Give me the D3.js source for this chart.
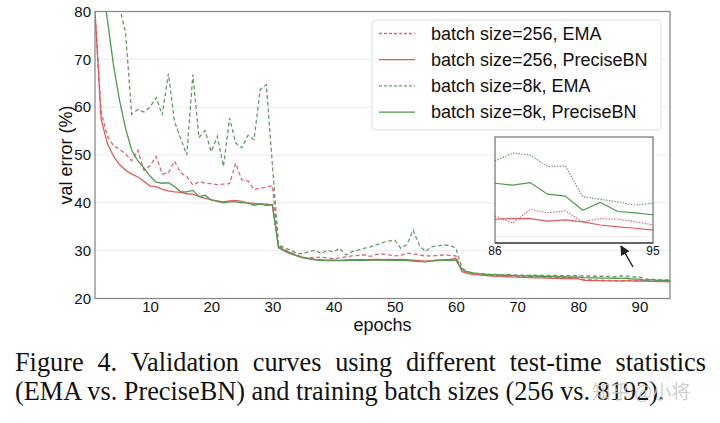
<!DOCTYPE html>
<html><head><meta charset="utf-8">
<script src="https://cdn.jsdelivr.net/npm/d3@7"></script>
<style>body{margin:0;background:#fff}svg{display:block}</style>
</head><body>
<svg id="chart" width="720" height="423"></svg>
<script>
// ---------- data ----------
const epochs = d3.range(1, 96);
const red256EMA = [80,59,54,52,51.2,50.2,48.8,51,46.8,47.8,49.7,46.0,46.3,48.7,46.3,45.5,43.7,44.4,44.1,44.0,43.8,43.9,44.0,48.3,44.8,44.6,42.8,43.0,43.3,43.6,
 31.0,30.2,29.6,29.0,28.6,28.5,28.6,28.6,28.5,28.3,28.5,28.7,28.9,29.0,29.1,28.8,29.2,29.3,29.1,28.9,29.0,29.5,29.3,29.1,28.9,28.9,29.0,29.1,29.0,28.9,
 25.9,25.4,25.2,25.05,25.0,24.9,24.85,24.8,24.7,24.7,24.6,24.55,24.55,24.5,24.45,24.45,24.4,24.4,24.35,24.3,23.95,23.9,23.85,23.8,23.8,23.72,23.61,23.82,23.77,23.80,23.63,23.68,23.67,23.63,23.58];
const red256PBN = [80,57.5,52.5,49.8,48.0,46.8,46.0,45.4,44.5,43.5,43.4,42.8,42.5,42.3,42.2,41.9,41.8,41.3,41.0,40.6,40.4,40.2,40.4,40.5,40.3,40.0,39.9,39.7,39.7,39.6,
 30.9,30.1,29.5,29.0,28.6,28.4,28.2,28.05,28.0,28.0,27.95,28.0,28.05,28.1,28.1,28.1,28.15,28.1,28.15,28.1,28.15,28.1,28.0,27.9,27.8,27.9,28.05,28.1,28.2,28.4,
 25.6,25.2,25.0,24.9,24.8,24.7,24.65,24.6,24.5,24.45,24.4,24.35,24.3,24.3,24.25,24.2,24.2,24.15,24.15,24.1,23.8,23.75,23.75,23.7,23.7,23.67,23.68,23.68,23.64,23.66,23.63,23.58,23.55,23.53,23.50];
const green8kEMA = [98,94,90,86,81,75.5,58.5,59.5,59.0,60.0,62.0,58.4,67.0,57.0,53.5,50.0,66.8,53.6,55.1,50.7,53.9,47.6,57.7,52.5,51.5,54.1,53.2,63.7,64.7,48.0,
 31.2,30.6,30.1,29.4,29.4,29.8,30.1,29.4,30.1,29.7,30.5,29.1,29.8,30.1,30.5,30.8,31.2,31.7,32.0,32.2,30.5,31.3,34.3,31.2,29.8,30.8,31.0,31.2,31.1,30.5,
 26.3,25.6,25.3,25.2,25.1,25.05,25.0,24.95,25.0,24.9,24.9,24.85,24.9,24.85,24.8,24.85,24.8,24.75,24.8,24.75,24.7,24.7,24.65,24.65,24.6,24.58,24.70,24.67,24.49,24.50,24.02,23.98,23.94,23.89,23.92];
const green8kPBN = [100,88,78.5,69,61.5,55.5,51,48.8,47.3,45.6,44.3,44.1,44.2,43.4,42.3,42.3,42.6,41.3,41.6,40.6,40.3,40.0,40.2,40.2,40.0,40.0,39.5,39.8,39.5,39.6,
 30.6,29.9,29.3,28.9,28.5,28.3,28.1,28.0,27.9,27.95,27.9,28.0,28.0,28.05,28.0,28.1,28.05,28.1,28.0,28.05,28.0,27.9,27.8,27.7,27.65,27.8,27.9,28.0,28.0,28.0,
 26.0,25.5,25.3,25.15,25.05,25.0,24.95,24.9,24.85,24.8,24.75,24.7,24.7,24.65,24.6,24.6,24.55,24.5,24.5,24.45,24.35,24.3,24.3,24.25,24.25,24.23,24.20,24.24,24.06,24.03,23.81,23.93,23.79,23.77,23.74];
const seriesNames = ["batch size=256, EMA","batch size=256, PreciseBN","batch size=8k, EMA","batch size=8k, PreciseBN"];
const xTicks = [10,20,30,40,50,60,70,80,90];
const yTicks = [20,30,40,50,60,70,80];
const insetRange = [86,95];
const insetTicks = ["86","95"];
const insetGrid = [23.4];
const captionLines = ["Figure 4. Validation curves using different test-time statistics",
                      "(EMA vs. PreciseBN) and training batch sizes (256 vs. 8192)."];
const watermark = "知乎 @小将";

// ---------- styles ----------
const RED = "#e05a5c", RED_D = "#d8667a", GREEN = "#4f9a4f", GREEN_D = "#6a9a6a";
const styles = [
  {color: RED_D, dash: "4,2.6"},
  {color: RED, dash: null},
  {color: GREEN_D, dash: "4,2.6"},
  {color: GREEN, dash: null}
];
const allSeries = [red256EMA, red256PBN, green8kEMA, green8kPBN];

const svg = d3.select("#chart");
const L = 95, R = 670, T = 11.5, B = 298.5;
const x = d3.scaleLinear().domain([1, 95]).range([L, R]);
const y = d3.scaleLinear().domain([20, 80]).range([B, T]);
const sans = "'Liberation Sans', Arial, Helvetica, sans-serif";

// grid
svg.append("g").selectAll("line").data(yTicks.filter(d => d > 20 && d < 80)).join("line")
  .attr("x1", L).attr("x2", R).attr("y1", d => y(d)).attr("y2", d => y(d))
  .attr("stroke", "#ebebeb").attr("stroke-width", 1);

// clip
svg.append("clipPath").attr("id", "clipMain").append("rect")
  .attr("x", L).attr("y", T).attr("width", R - L).attr("height", B - T);

const line = d3.line().x((d, i) => x(epochs[i])).y(d => y(d));
const gLines = svg.append("g").attr("clip-path", "url(#clipMain)");
allSeries.forEach((s, k) => {
  gLines.append("path").datum(s).attr("d", line).attr("fill", "none")
    .attr("stroke", styles[k].color).attr("stroke-width", 1.3)
    .attr("stroke-dasharray", styles[k].dash);
});

// frame
svg.append("rect").attr("x", L).attr("y", T).attr("width", R - L).attr("height", B - T)
  .attr("fill", "none").attr("stroke", "#8a8a8a").attr("stroke-width", 1.3);

// axes
const xAxis = svg.append("g").attr("transform", `translate(0,${B})`)
  .call(d3.axisBottom(x).tickValues(xTicks).tickSize(0).tickPadding(3));
xAxis.select(".domain").remove();
xAxis.selectAll("text").attr("font-family", sans).attr("font-size", 15).attr("fill", "#111");
const yAxis = svg.append("g").attr("transform", `translate(${L},0)`)
  .call(d3.axisLeft(y).tickValues(yTicks).tickSize(0).tickPadding(4));
yAxis.select(".domain").remove();
yAxis.selectAll("text").attr("font-family", sans).attr("font-size", 15).attr("fill", "#111");

svg.append("text").attr("x", (L + R) / 2).attr("y", 331).attr("text-anchor", "middle")
  .attr("font-family", sans).attr("font-size", 18).attr("fill", "#111").text("epochs");
svg.append("text").attr("transform", `translate(72,${(T + B) / 2}) rotate(-90)`)
  .attr("text-anchor", "middle").attr("font-family", sans).attr("font-size", 18)
  .attr("fill", "#111").text("val error (%)");

// legend
const lg = svg.append("g");
lg.append("rect").attr("x", 372).attr("y", 20).attr("width", 289).attr("height", 110)
  .attr("rx", 4).attr("fill", "#fff").attr("fill-opacity", 0.9)
  .attr("stroke", "#e0e0e0").attr("stroke-width", 1);
seriesNames.forEach((n, k) => {
  const cy = 33.5 + k * 26.2;
  lg.append("line").attr("x1", 379).attr("x2", 415).attr("y1", cy).attr("y2", cy)
    .attr("stroke", styles[k].color).attr("stroke-width", 1.3)
    .attr("stroke-dasharray", styles[k].dash ? "3,2" : null);
  lg.append("text").attr("x", 431).attr("y", cy + 6.3).attr("font-family", sans)
    .attr("font-size", 18).attr("fill", "#111").text(n);
});

// inset
const IL = 495, IR = 653, IT = 137, IB = 243;
const xi = d3.scaleLinear().domain(insetRange).range([IL, IR]);
const yi = d3.scaleLinear().domain([23.3, 24.95]).range([IB, IT]);
const ig = svg.append("g");
ig.append("rect").attr("x", IL).attr("y", IT).attr("width", IR - IL).attr("height", IB - IT).attr("fill", "#fff");
ig.selectAll("line.g").data(insetGrid).join("line").attr("class", "g")
  .attr("x1", IL).attr("x2", IR).attr("y1", d => yi(d)).attr("y2", d => yi(d))
  .attr("stroke", "#eeeeee");
svg.append("clipPath").attr("id", "clipInset").append("rect")
  .attr("x", IL).attr("y", IT).attr("width", IR - IL).attr("height", IB - IT);
const idx = epochs.map((e, i) => i).filter(i => epochs[i] >= insetRange[0] && epochs[i] <= insetRange[1]);
const insetStyles = [
  {color: RED_D, dash: "1.4,1.4"},
  {color: RED, dash: null},
  {color: GREEN_D, dash: "1.4,1.4"},
  {color: GREEN, dash: null}
];
const gi = ig.append("g").attr("clip-path", "url(#clipInset)");
allSeries.forEach((s, k) => {
  const pts = idx.map(i => [xi(epochs[i]), yi(s[i])]);
  gi.append("path").attr("d", d3.line()(pts)).attr("fill", "none")
    .attr("stroke", insetStyles[k].color).attr("stroke-width", 1.2)
    .attr("stroke-dasharray", insetStyles[k].dash);
});
ig.append("rect").attr("x", IL).attr("y", IT).attr("width", IR - IL).attr("height", IB - IT)
  .attr("fill", "none").attr("stroke", "#555").attr("stroke-width", 1);
ig.append("line").attr("x1", IL).attr("x2", IR).attr("y1", IB).attr("y2", IB)
  .attr("stroke", "#222").attr("stroke-width", 1.2);
ig.selectAll("text.t").data(insetRange).join("text").attr("class", "t")
  .attr("x", d => xi(d)).attr("y", IB + 12).attr("text-anchor", "middle")
  .attr("font-family", sans).attr("font-size", 12).attr("fill", "#111")
  .text((d, i) => insetTicks[i]);

// arrow
svg.append("defs").append("marker").attr("id", "ah").attr("viewBox", "0 0 10 10")
  .attr("refX", 9).attr("refY", 5).attr("markerWidth", 7).attr("markerHeight", 7)
  .attr("orient", "auto").append("path").attr("d", "M0,0L10,5L0,10z").attr("fill", "#222");
svg.append("line").attr("x1", 633).attr("y1", 267).attr("x2", 621).attr("y2", 246)
  .attr("stroke", "#222").attr("stroke-width", 1.4).attr("marker-end", "url(#ah)");

// caption
const serif = "'Liberation Serif', 'Times New Roman', Times, serif";
const capX0 = 15, capX1 = 706, line2Width = 650;
const measure = (txt, fs) => {
  const t = svg.append("text").attr("font-family", serif).attr("font-size", fs).text(txt);
  const w = t.node().getComputedTextLength(); t.remove(); return w;
};
const capFont = 20 * line2Width / measure(captionLines[1], 20);
// line 1 justified
const words = captionLines[0].split(" ");
const widths = words.map(w => measure(w, capFont));
const gap = (capX1 - capX0 - d3.sum(widths)) / (words.length - 1);
let cx = capX0;
words.forEach((w, i) => {
  svg.append("text").attr("x", cx).attr("y", 371).attr("font-family", serif)
    .attr("font-size", capFont).attr("fill", "#111").text(w);
  cx += widths[i] + gap;
});
svg.append("text").attr("x", capX0).attr("y", 400).attr("font-family", serif)
  .attr("font-size", capFont).attr("fill", "#111").text(captionLines[1]);
svg.append("text").attr("x", 592).attr("y", 399).attr("font-family", "'Noto Sans CJK SC', sans-serif")
  .attr("font-size", 19).attr("fill", "#c8c8c8").attr("fill-opacity", 0.85).text(watermark);
</script>
</body></html>
